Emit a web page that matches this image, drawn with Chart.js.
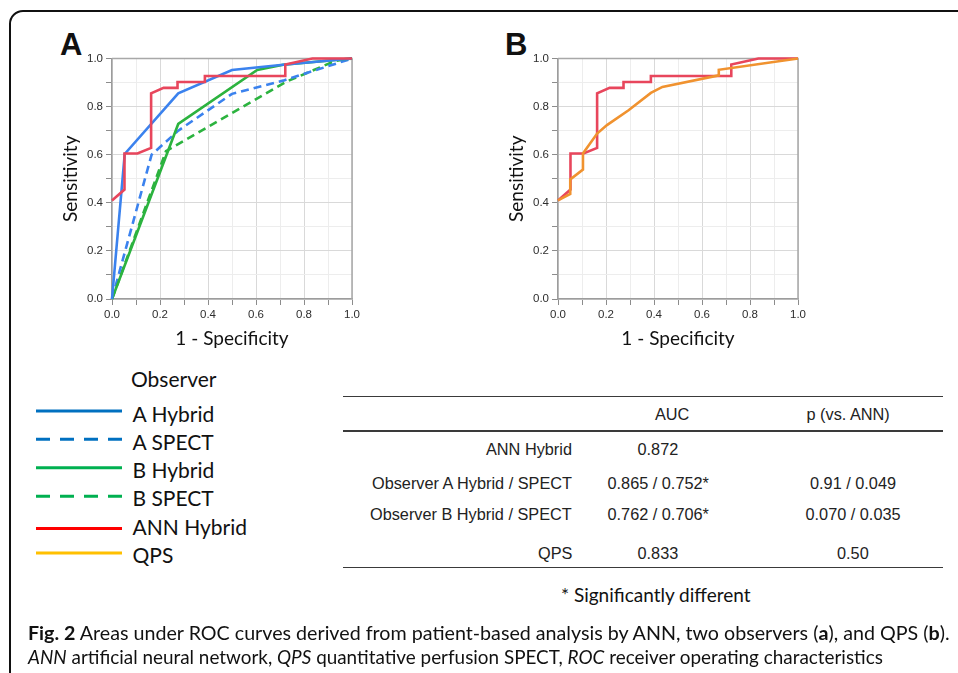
<!DOCTYPE html>
<html>
<head>
<meta charset="utf-8">
<script src="https://cdn.jsdelivr.net/npm/chart.js@4/dist/chart.umd.min.js"></script>
<style>
html,body{margin:0;padding:0;background:#fff;}
body{width:958px;height:673px;overflow:hidden;position:relative;font-family:Lato,"Open Sans",sans-serif;color:#111;}
#frame{position:absolute;left:9px;top:10px;width:1100px;height:800px;border:2px solid #111;border-radius:14px;box-sizing:border-box;}
canvas{position:absolute;}
.t{position:absolute;white-space:nowrap;}
.tbl{font-family:"Liberation Sans",Arial,sans-serif;color:#222;}
.rule{position:absolute;left:343px;width:600px;background:#3a3a3a;}
.letter{font-family:"Liberation Sans",Arial,sans-serif;font-weight:bold;font-size:31px;line-height:31px;color:#111;}
</style>
</head>
<body>
<div id="frame"></div>
<div class="t letter" style="left:60px;top:29px;">A</div>
<div class="t letter" style="left:505px;top:29px;">B</div>
<canvas id="chartA" width="330" height="310" style="left:40px;top:45px;"></canvas>
<canvas id="chartB" width="330" height="310" style="left:486px;top:45px;"></canvas>
<div id="legend"></div>
<div id="table"></div>
<script>
// ---- data ----
const tickLabels = ['0.0', '0.2', '0.4', '0.6', '0.8', '1.0'];
const xTitle = '1 - Specificity';
const yTitle = 'Sensitivity';

// ANN Hybrid (both panels)
const annX = [0, 0.052, 0.052, 0.106, 0.163, 0.163, 0.215, 0.273, 0.273, 0.387, 0.387, 0.722, 0.722, 0.835, 1];
const annY = [0.41, 0.455, 0.605, 0.605, 0.628, 0.855, 0.878, 0.878, 0.902, 0.902, 0.927, 0.927, 0.975, 1, 1];
// Observer A Hybrid
const aHybX = [0, 0.053, 0.276, 0.5, 0.713, 1];
const aHybY = [0, 0.603, 0.855, 0.952, 0.974, 1];
// Observer A SPECT
const aSpX = [0, 0.165, 0.276, 0.5, 0.713, 1];
const aSpY = [0, 0.6, 0.7, 0.853, 0.908, 1];
// Observer B Hybrid
const bHybX = [0, 0.276, 0.605, 0.713, 1];
const bHybY = [0, 0.728, 0.952, 0.974, 1];
// Observer B SPECT
const bSpX = [0, 0.225, 0.725, 0.93, 1];
const bSpY = [0, 0.615, 0.903, 0.99, 1];
// QPS
const qpsX = [0, 0.051, 0.051, 0.104, 0.104, 0.163, 0.204, 0.294, 0.387, 0.435, 0.67, 0.67, 1];
const qpsY = [0.41, 0.437, 0.497, 0.538, 0.605, 0.688, 0.723, 0.785, 0.857, 0.882, 0.93, 0.953, 1];

// legend
const legendTitle = 'Observer';
const legendLabels = ['A Hybrid', 'A SPECT', 'B Hybrid', 'B SPECT', 'ANN Hybrid', 'QPS'];
const legendColors = ['#0070C0', '#0070C0', '#00B050', '#00B050', '#FF0000', '#FFC000'];
const legendDashed = [false, true, false, true, false, false];

// table
const tableHeaders = ['AUC', 'p (vs. ANN)'];
const rowLabels = ['ANN Hybrid', 'Observer A Hybrid / SPECT', 'Observer B Hybrid / SPECT', 'QPS'];
const aucValues = ['0.872', '0.865 / 0.752*', '0.762 / 0.706*', '0.833'];
const pValues = ['', '0.91 / 0.049', '0.070 / 0.035', '0.50'];
const footnote = '* Significantly different';

// ---- charts ----
const C = {blue:'#3b82ee', green:'#2cb33f', red:'#e8465c', orange:'#f0922f'};
const pts = (xs, ys) => xs.map((x, i) => ({x, y: ys[i]}));
function ds(xs, ys, color, dashed) {
  return {data: pts(xs, ys), borderColor: color, backgroundColor: color, borderWidth: 2.6,
          borderDash: dashed ? [8, 5] : [], showLine: true, pointRadius: 0, tension: 0, clip: 6,
          borderJoinStyle: 'miter', borderCapStyle: 'butt'};
}
const framePlugin = {
  id: 'frame',
  beforeDatasetsDraw(chart) {
    const {ctx, chartArea: a} = chart;
    ctx.save();
    ctx.strokeStyle = '#a8a8a8';
    ctx.lineWidth = 1.5;
    ctx.beginPath();
    ctx.moveTo(a.left, a.top); ctx.lineTo(a.right, a.top); ctx.lineTo(a.right, a.bottom);
    ctx.stroke();
    ctx.restore();
  }
};
function axis(isX) {
  return {
    type: 'linear', min: 0, max: 1,
    ticks: {stepSize: 0.1, padding: 3, color: '#2e2e2e', autoSkip: false, maxRotation: 0,
            font: {family: 'Liberation Sans', size: 11.5},
            callback: (v, i) => (i % 2 === 0 ? tickLabels[i / 2] : '')},
    grid: {color: c => (c.tick && Math.round(c.tick.value * 10) % 2 === 0 ? '#d9d9d9' : '#ededed'),
           tickColor: '#8c8c8c', tickLength: 6, lineWidth: 1},
    border: {color: '#9c9c9c', width: 1.5},
    title: {display: true, text: isX ? xTitle : yTitle, color: '#111',
            font: {family: 'Lato', size: 19}, padding: isX ? {top: 0, bottom: 4.6} : {top: 19, bottom: 0}},
    afterFit: s => { if (isX) s.height = 56; else s.width = 72; }
  };
}
function makeChart(id, datasets) {
  return new Chart(document.getElementById(id), {
    type: 'scatter',
    data: {datasets},
    options: {
      responsive: false, animation: false, devicePixelRatio: 1,
      layout: {padding: {top: 13.5, right: 18, left: 0, bottom: 0}},
      plugins: {legend: {display: false}, tooltip: {enabled: false}},
      scales: {x: axis(true), y: axis(false)}
    },
    plugins: [framePlugin]
  });
}
makeChart('chartA', [
  ds(annX, annY, C.red, false),
  ds(aHybX, aHybY, C.blue, false),
  ds(bHybX, bHybY, C.green, false),
  ds(aSpX, aSpY, C.blue, true),
  ds(bSpX, bSpY, C.green, true)
]);
makeChart('chartB', [
  ds(qpsX, qpsY, C.orange, false),
  ds(annX, annY, C.red, false)
]);

// ---- text helpers ----
function text(parent, str, cx, cy, size, align, cls) {
  const d = document.createElement('div');
  d.className = 't ' + (cls || '');
  d.style.fontSize = size + 'px';
  const lh = Math.round(size * 1.2);
  d.style.lineHeight = lh + 'px';
  d.style.top = (cy - lh / 2) + 'px';
  d.innerHTML = str;
  parent.appendChild(d);
  if (align === 'left') d.style.left = cx + 'px';
  else if (align === 'right') d.style.left = (cx - d.offsetWidth) + 'px';
  else d.style.left = (cx - d.offsetWidth / 2) + 'px';
  return d;
}

// legend
const lg = document.getElementById('legend');
text(lg, legendTitle, 131, 378, 21, 'left');
const lineYs = [411, 439.3, 467.7, 496.3, 528.5, 553];
const textYs = [413, 441, 469.3, 497.3, 526.3, 554.5];
let svg = '<svg width="130" height="673" style="position:absolute;left:0;top:0" xmlns="http://www.w3.org/2000/svg">';
legendLabels.forEach((lab, i) => {
  svg += `<line x1="36" x2="122" y1="${lineYs[i]}" y2="${lineYs[i]}" stroke="${legendColors[i]}" stroke-width="3"` +
         (legendDashed[i] ? ' stroke-dasharray="14 10"' : '') + '/>';
  text(lg, lab, 132.5, textYs[i], 21, 'left');
});
svg += '</svg>';
lg.insertAdjacentHTML('beforeend', svg);

// table
const TF = 16.3;
const tb = document.getElementById('table');
[[396.5, 1.8], [431, 1.3], [567.5, 1.8]].forEach(([y, h]) => {
  const r = document.createElement('div');
  r.className = 'rule';
  r.style.top = (y - h / 2) + 'px';
  r.style.height = h + 'px';
  tb.appendChild(r);
});
text(tb, tableHeaders[0], 672, 413.5, TF, 'center', 'tbl');
text(tb, tableHeaders[1], 848, 413.5, TF, 'center', 'tbl');
const rowYs = [449, 483, 514, 552.5];
rowLabels.forEach((lab, i) => {
  text(tb, lab, 572, rowYs[i], TF, 'right', 'tbl');
  text(tb, aucValues[i], 658, rowYs[i], TF, 'center', 'tbl');
  if (pValues[i]) text(tb, pValues[i], 853, rowYs[i], TF, 'center', 'tbl');
});
text(tb, footnote, 656, 594, 19, 'center');

// caption
const cap1 = text(document.body, '<b>Fig. 2</b> Areas under ROC curves derived from patient-based analysis by ANN, two observers (<b>a</b>), and QPS (<b>b</b>).', 28, 633, 18, 'left');
const cap2 = text(document.body, '<i>ANN</i> artificial neural network, <i>QPS</i> quantitative perfusion SPECT, <i>ROC</i> receiver operating characteristics', 28, 657, 18, 'left');
function fitW(el, w) {
  const fs = parseFloat(el.style.fontSize);
  el.style.fontSize = (fs * w / el.offsetWidth) + 'px';
}
fitW(cap1, 922);
fitW(cap2, 855);
</script>
</body>
</html>
